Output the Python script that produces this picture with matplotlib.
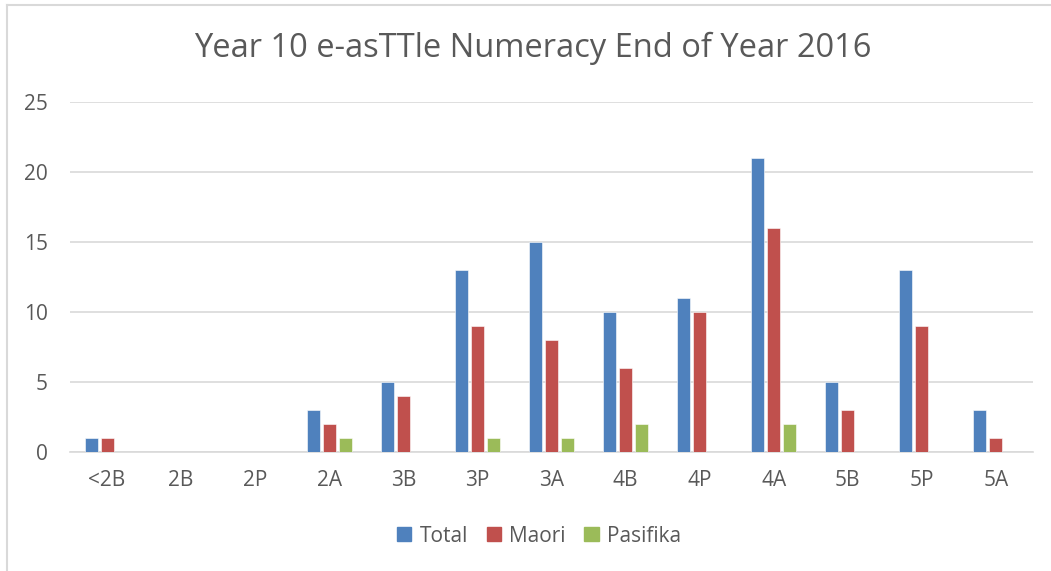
import matplotlib
matplotlib.use("Agg")
import matplotlib.pyplot as plt
import numpy as np
from matplotlib.lines import Line2D

categories = ["<2B", "2B", "2P", "2A", "3B", "3P", "3A", "4B", "4P", "4A", "5B", "5P", "5A"]
total = [1, 0, 0, 3, 5, 13, 15, 10, 11, 21, 5, 13, 3]
maori = [1, 0, 0, 2, 4, 9, 8, 6, 10, 16, 3, 9, 1]
pasifika = [0, 0, 0, 1, 0, 1, 1, 2, 0, 2, 0, 0, 0]
series_names = ["Total", "Maori", "Pasifika"]
colors = ["#4F81BD", "#C0504D", "#9BBB59"]
yticks = [0, 5, 10, 15, 20, 25]

plt.rcParams['font.family'] = ['Open Sans', 'DejaVu Sans']

W, H = 1051, 571
fig = plt.figure(figsize=(W / 100, H / 100), dpi=100)
ax = fig.add_axes([70 / W, 1 - 452 / H, (1033 - 70) / W, (452 - 102) / H])

x = np.arange(len(categories))
bw = 13 / 74
step = 16 / 74
for i, (vals, c, name) in enumerate(zip([total, maori, pasifika], colors, series_names)):
    ax.bar(x + (i - 1) * step, vals, width=bw, color=c, label=name,
           edgecolor="#ffffff", linewidth=0.4, zorder=3)

ax.set_xlim(-0.5, len(categories) - 0.5)
ax.set_ylim(0, 25)
ax.set_yticks(yticks)
ax.set_xticks(x)
ax.set_xticklabels(categories)
ax.grid(axis="y", color="#D9D9D9", linewidth=1.2, zorder=0)
for s in ["top", "right", "left"]:
    ax.spines[s].set_visible(False)
ax.spines["bottom"].set_color("#D9D9D9")
ax.spines["bottom"].set_linewidth(1.2)
ax.tick_params(axis="both", length=0, labelsize=15, colors="#595959")
ax.tick_params(axis="x", pad=13)
ax.tick_params(axis="y", pad=16)

fig.text(533 / W, 1 - 48 / H, "Year 10 e-asTTle Numeracy End of Year 2016",
         ha="center", va="center", fontsize=23.5, color="#595959")

handles = [plt.Rectangle((0, 0), 1, 1, color=c) for c in colors]
fig.legend(handles, series_names, loc="center", bbox_to_anchor=(539 / W, 1 - 536 / H),
           ncol=3, frameon=False, fontsize=15, labelcolor="#595959",
           handlelength=0.68, handleheight=0.68, handletextpad=0.4, columnspacing=0.9)

# chart border
fig.add_artist(Line2D([7 / W, 7 / W], [0, 1 - 5 / H], color="#D9D9D9", linewidth=1.5))
fig.add_artist(Line2D([7 / W, 1], [1 - 5 / H, 1 - 5 / H], color="#D9D9D9", linewidth=1.5))

fig.savefig("out.png", dpi=100, facecolor="white")
